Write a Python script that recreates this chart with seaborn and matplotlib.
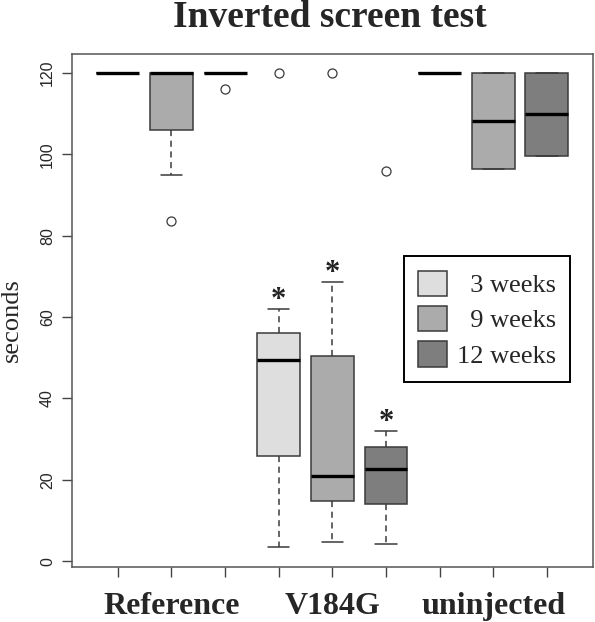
"""Inverted screen test boxplot (Reference / V184G / uninjected at 3, 9, 12 weeks)."""

import numpy as np
import pandas as pd
import matplotlib
matplotlib.use("Agg")
import matplotlib.pyplot as plt
from matplotlib.patches import Patch
import seaborn as sns

# ---- values ----
groups = ["Reference", "V184G", "uninjected"]
ages = ["3 weeks", "9 weeks", "12 weeks"]
legend_labels = ["  3 weeks", "  9 weeks", "12 weeks"]
age_colors = ["#DEDEDE", "#ABABAB", "#7E7E7E"]

# five-number summaries, one entry per box (group-major, age-minor)
whisker_low = [120, 94.8, 120, 3.4, 4.7, 4.1, 120, 96.5, 99.5]
q1 = [120, 106.1, 120, 25.9, 14.9, 14.0, 120, 96.5, 99.5]
median = [120, 120, 120, 49.5, 21.0, 22.7, 120, 108.3, 109.9]
q3 = [120, 120, 120, 56.0, 50.4, 28.1, 120, 120, 120]
whisker_high = [120, 120, 120, 62.0, 68.7, 32.0, 120, 120, 120]

# outliers: box index and value
outlier_box = [1, 2, 3, 4, 5]
outlier_val = [83.6, 116.1, 120, 120, 96.0]

# boxes marked with a significance star
starred_box = [3, 4, 5]

ytick_values = [0, 20, 40, 60, 80, 100, 120]

# ---- build long tables ----
box_keys = [f"{g} {a}" for g in groups for a in ages]
box_ages = [a for g in groups for a in ages]

rows = []
for i, key in enumerate(box_keys):
    for v in (whisker_low[i], q1[i], median[i], q3[i], whisker_high[i]):
        rows.append({"box": key, "age": box_ages[i], "seconds": v})
df = pd.DataFrame(rows)

out_df = pd.DataFrame({
    "box": [box_keys[i] for i in outlier_box],
    "seconds": outlier_val,
})

palette = dict(zip(ages, age_colors))
edge = "#3a3a3a"
serif = ["Liberation Serif", "DejaVu Serif"]
sans = ["Liberation Sans", "DejaVu Sans"]

sns.set_theme(style="white")
plt.rcParams["font.family"] = sans

fig = plt.figure(figsize=(5.95, 6.22), dpi=100)
ax = fig.add_axes([0.1205, 0.0889, 0.8761, 0.8243])

sns.boxplot(
    data=df, x="box", y="seconds", hue="age", order=box_keys,
    hue_order=ages, palette=palette, dodge=False, width=0.8,
    whis=(0, 100), linecolor=edge, linewidth=1.1, legend=False,
    medianprops={"color": "black", "linewidth": 2.4},
    whiskerprops={"linestyle": (0, (4, 3))},
    ax=ax,
)

sns.stripplot(
    data=out_df, x="box", y="seconds", order=box_keys, jitter=False,
    color="white", edgecolor=edge, linewidth=0.9, size=6.5, ax=ax,
)
ax.collections[-1].set_facecolor("none")

for i in starred_box:
    ax.text(i, whisker_high[i] - 1.6, "*", ha="center", va="bottom",
            fontsize=22, fontweight="bold", family=serif, color="#222222")

ax.set_xlim(-0.86, 8.86)
ax.set_ylim(-1.37, 124.67)
ax.set_xticks(range(len(box_keys)))
xt = ["" for _ in box_keys]
for gi, g in enumerate(groups):
    xt[gi * 3 + 1] = g
ax.set_xticklabels(xt, fontsize=23, fontweight="bold", family=serif)
ax.set_yticks(ytick_values)
ax.set_yticklabels([str(v) for v in ytick_values], fontsize=11.5)
for t in ax.get_yticklabels():
    t.set_rotation(90)
    t.set_va("center")

ax.tick_params(axis="both", direction="out", length=7, width=1,
               color="#444444", left=True, bottom=True)
ax.tick_params(axis="y", pad=5)
ax.tick_params(axis="x", pad=11)
ax.set_xlabel("")
ax.set_ylabel("seconds", fontsize=19, family=serif)
ax.yaxis.set_label_coords(-0.093, 0.481)

for s in ax.spines.values():
    s.set_visible(True)
    s.set_color("#555555")
    s.set_linewidth(1.1)

handles = [Patch(facecolor=c, edgecolor=edge, linewidth=1.1) for c in age_colors]
leg = ax.legend(
    handles, legend_labels, loc="upper left", bbox_to_anchor=(0.637, 0.606),
    prop={"family": serif, "size": 19}, frameon=True, fancybox=False,
    edgecolor="black", framealpha=1, handlelength=1.1, handleheight=1.1,
    handletextpad=0.35, labelspacing=0.33, borderpad=0.55, borderaxespad=0,
)
leg.get_frame().set_linewidth(1.4)

fig.text(0.555, 0.956, "Inverted screen test", ha="center", va="baseline",
         fontsize=27, fontweight="bold", family=serif)

fig.savefig("out.png", dpi=100)
